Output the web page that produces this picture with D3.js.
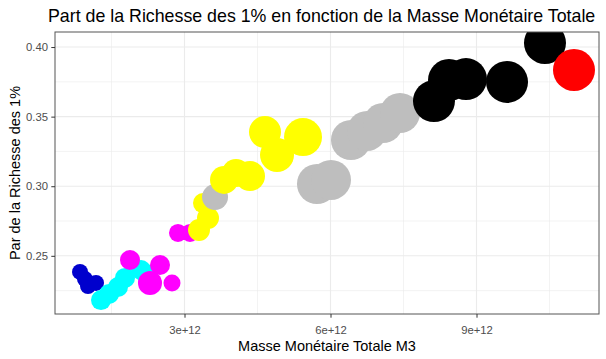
<!DOCTYPE html>
<html>
<head>
<meta charset="utf-8">
<script src="https://cdn.jsdelivr.net/npm/d3@7"></script>
<style>
  html, body { margin: 0; padding: 0; background: #fff; }
  text { font-family: "Liberation Sans", Arial, sans-serif; }
</style>
</head>
<body>
<svg id="chart" width="606" height="359"></svg>
<script>
// ---- Data ----
// Masse monétaire totale M3 (in units of 1e12)
const masseM3 = [
  0.853, 0.956, 1.017, 1.182,
  1.284, 1.449, 1.634, 1.777, 2.106, 2.209,
  1.880, 2.497, 2.291, 2.743, 2.866, 3.113,
  3.298, 3.483, 3.380, 3.627, 3.812, 4.058, 4.346, 4.654, 4.901, 5.435,
  5.722, 6.010, 6.421, 6.750, 7.079, 7.428,
  8.126, 8.435, 8.784, 9.627, 10.407,
  11.003
];
// Part de la richesse des 1%
const partRichesse = [
  0.2384, 0.2333, 0.2283, 0.2305,
  0.2182, 0.2226, 0.2276, 0.2341, 0.2398, 0.2369,
  0.2470, 0.2434, 0.2305, 0.2305, 0.2664, 0.2664,
  0.2685, 0.2772, 0.2879, 0.2922, 0.3045, 0.3095, 0.3073, 0.3389, 0.3224, 0.3353,
  0.3016, 0.3045, 0.3332, 0.3397, 0.3454, 0.3526,
  0.3612, 0.3763, 0.3770, 0.3749, 0.4029,
  0.3835
];
// Size variable (relative, 0-100)
const taille = [
  14.5, 14.5, 14.5, 14.5,
  22.7, 22.7, 22.7, 22.7, 22.7, 22.7,
  22.7, 22.7, 32.7, 16.4, 18.4, 18.4,
  27.4, 27.4, 22.7, 38.3, 44.4, 44.4, 51, 58, 65.5, 81.9,
  90.7, 90.7, 90.7, 90.7, 90.7, 90.7,
  100, 100, 100, 100, 100,
  100
];
// Group of each point
const groupe = [
  "G1","G1","G1","G1",
  "G2","G2","G2","G2","G2","G2",
  "G3","G3","G3","G3","G3","G3",
  "G4","G4","G4","G5","G4","G4","G4","G4","G4","G4",
  "G5","G5","G5","G5","G5","G5",
  "G6","G6","G6","G6","G6",
  "G7"
];
const groupes = ["G1","G2","G3","G4","G5","G6","G7"];
const couleurs = ["#0000CD","#00FFFF","#FF00FF","#FFFF00","#BEBEBE","#000000","#FF0000"];

const xTicks = [3e12, 6e12, 9e12];
const xTickLabels = ["3e+12", "6e+12", "9e+12"];
const xMinor = [1.5e12, 4.5e12, 7.5e12, 10.5e12];
const yTicks = [0.25, 0.30, 0.35, 0.40];
const yTickLabels = ["0.25", "0.30", "0.35", "0.40"];
const yMinor = [0.225, 0.275, 0.325, 0.375];

const titre = "Part de la Richesse des 1% en fonction de la Masse Monétaire Totale";
const titreX = "Masse Monétaire Totale M3";
const titreY = "Par de la Richesse des 1%";

// ---- Layout ----
const panel = { left: 55, right: 599, top: 32, bottom: 314 };
const svg = d3.select("#chart");

const data = masseM3.map((m, i) => ({
  x: m * 1e12, y: partRichesse[i], s: taille[i], g: groupe[i]
}));

const x = d3.scaleLinear().domain([0.339e12, 11.517e12]).range([panel.left, panel.right]);
const y = d3.scaleLinear().domain([0.2082, 0.4108]).range([panel.bottom, panel.top]);
const r = d3.scaleSqrt().domain([0, 100]).range([0, 21]);
const color = d3.scaleOrdinal().domain(groupes).range(couleurs);

svg.append("rect").attr("width", 606).attr("height", 359).attr("fill", "#fff");

// Clip for panel
svg.append("clipPath").attr("id", "clip")
  .append("rect")
  .attr("x", panel.left).attr("y", panel.top)
  .attr("width", panel.right - panel.left).attr("height", panel.bottom - panel.top);

const grid = svg.append("g");
// minor grid
grid.selectAll(".xmin").data(xMinor).join("line")
  .attr("x1", d => x(d)).attr("x2", d => x(d))
  .attr("y1", panel.top).attr("y2", panel.bottom)
  .attr("stroke", "#EBEBEB").attr("stroke-width", 0.6);
grid.selectAll(".ymin").data(yMinor).join("line")
  .attr("y1", d => y(d)).attr("y2", d => y(d))
  .attr("x1", panel.left).attr("x2", panel.right)
  .attr("stroke", "#EBEBEB").attr("stroke-width", 0.6);
// major grid
grid.selectAll(".xmaj").data(xTicks).join("line")
  .attr("x1", d => x(d)).attr("x2", d => x(d))
  .attr("y1", panel.top).attr("y2", panel.bottom)
  .attr("stroke", "#EBEBEB").attr("stroke-width", 1.1);
grid.selectAll(".ymaj").data(yTicks).join("line")
  .attr("y1", d => y(d)).attr("y2", d => y(d))
  .attr("x1", panel.left).attr("x2", panel.right)
  .attr("stroke", "#EBEBEB").attr("stroke-width", 1.1);

// points
svg.append("g").attr("clip-path", "url(#clip)")
  .selectAll("circle").data(data).join("circle")
  .attr("cx", d => x(d.x))
  .attr("cy", d => y(d.y))
  .attr("r", d => r(d.s))
  .attr("fill", d => color(d.g));

// panel border
svg.append("rect")
  .attr("x", panel.left).attr("y", panel.top)
  .attr("width", panel.right - panel.left).attr("height", panel.bottom - panel.top)
  .attr("fill", "none").attr("stroke", "#555").attr("stroke-width", 1);

// axes
const xAxis = d3.axisBottom(x).tickValues(xTicks)
  .tickFormat((d, i) => xTickLabels[i]).tickSize(3.7).tickPadding(3);
const yAxis = d3.axisLeft(y).tickValues(yTicks)
  .tickFormat((d, i) => yTickLabels[i]).tickSize(3.7).tickPadding(3);

const gx = svg.append("g").attr("transform", `translate(0,${panel.bottom})`).call(xAxis);
gx.select(".domain").remove();
gx.selectAll(".tick line").attr("stroke", "#333");
gx.selectAll(".tick text").attr("fill", "#4D4D4D").attr("font-size", "11.3px")
  .attr("font-family", "Liberation Sans, Arial, sans-serif")
  .attr("dy", null).attr("y", 19.5);

const gy = svg.append("g").attr("transform", `translate(${panel.left},0)`).call(yAxis);
gy.select(".domain").remove();
gy.selectAll(".tick line").attr("stroke", "#333");
gy.selectAll(".tick text").attr("fill", "#4D4D4D").attr("font-size", "11.3px")
  .attr("font-family", "Liberation Sans, Arial, sans-serif")
  .attr("x", -7);

// titles
svg.append("text").attr("x", 48).attr("y", 22)
  .attr("font-size", "17.8px").attr("fill", "#000").text(titre);
svg.append("text").attr("x", (panel.left + panel.right) / 2).attr("y", 351)
  .attr("text-anchor", "middle").attr("font-size", "14.5px").attr("fill", "#000").text(titreX);
svg.append("text")
  .attr("transform", `translate(20,${(panel.top + panel.bottom) / 2}) rotate(-90)`)
  .attr("text-anchor", "middle").attr("font-size", "14.5px").attr("fill", "#000").text(titreY);
</script>
</body>
</html>
